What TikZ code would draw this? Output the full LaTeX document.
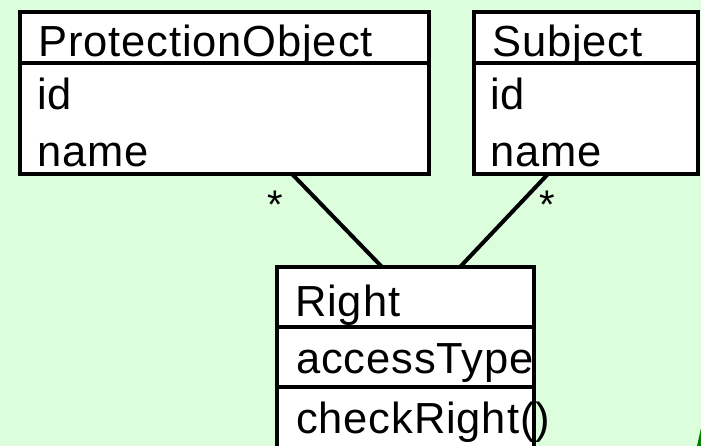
\documentclass[tikz,border=0pt]{standalone}
\usepackage{fontspec}
\setmainfont{Liberation Sans}[LetterSpace=2]
\definecolor{bgmint}{RGB}{221,254,221}
\definecolor{leafgreen}{RGB}{0,128,0}
\tikzset{
  classbox/.style={draw=black, fill=white, line width=4pt, rectangle, outer sep=0pt, inner sep=0pt, anchor=north west},
  divider/.style={draw=black, line width=4pt},
  assoc/.style={draw=black, line width=4pt},
  label/.style={anchor=base west, inner sep=0pt, font=\fontsize{43.5}{50}\selectfont},
  mult/.style={anchor=center, inner sep=0pt, font=\fontsize{40}{46}\selectfont},
}
\begin{document}
\begin{tikzpicture}[x=1pt,y=-1pt]
\useasboundingbox (0,0) rectangle (701,446);
\clip (0,0) rectangle (701,446);
\fill[bgmint] (0,0) rectangle (701,446);

% ProtectionObject class
\node[classbox, minimum width=409pt, minimum height=162pt] (po) at (20,12) {};
\draw[divider] (20,63) -- (429,63);
\node[label] (poName) at (38,57) {ProtectionObject};
\node[label] (poId) at (37,110) {id};
\node[label] (poNm) at (37,167) {name};

% Subject class
\node[classbox, minimum width=224pt, minimum height=162pt] (su) at (474,12) {};
\draw[divider] (474,63) -- (698,63);
\node[label] (suName) at (492,57) {Subject};
\node[label] (suId) at (490,110) {id};
\node[label] (suNm) at (490,167) {name};

% Right class
\node[classbox, minimum width=257pt, minimum height=190pt] (ri) at (277,267) {};
\draw[divider] (277,327) -- (534,327);
\draw[divider] (277,387) -- (534,387);
\node[label] (riName) at (295,316) {Right};
\node[label] (riAttr) at (296,373) {accessType};
\node[label] (riOp) at (296,433) {checkRight()};

% association ends
\coordinate (poEnd) at (292,174);
\coordinate (riEndL) at (382,267);
\coordinate (suEnd) at (548,174);
\coordinate (riEndR) at (460,267);
\draw[assoc] (poEnd) -- (riEndL);
\draw[assoc] (suEnd) -- (riEndR);
\node[mult] (mPo) at (275,205) {*};
\node[mult] (mSu) at (547,205) {*};

% corner of a green shape
\fill[leafgreen] (701,428) -- (697,446) -- (701,446) -- cycle;
\end{tikzpicture}
\end{document}
